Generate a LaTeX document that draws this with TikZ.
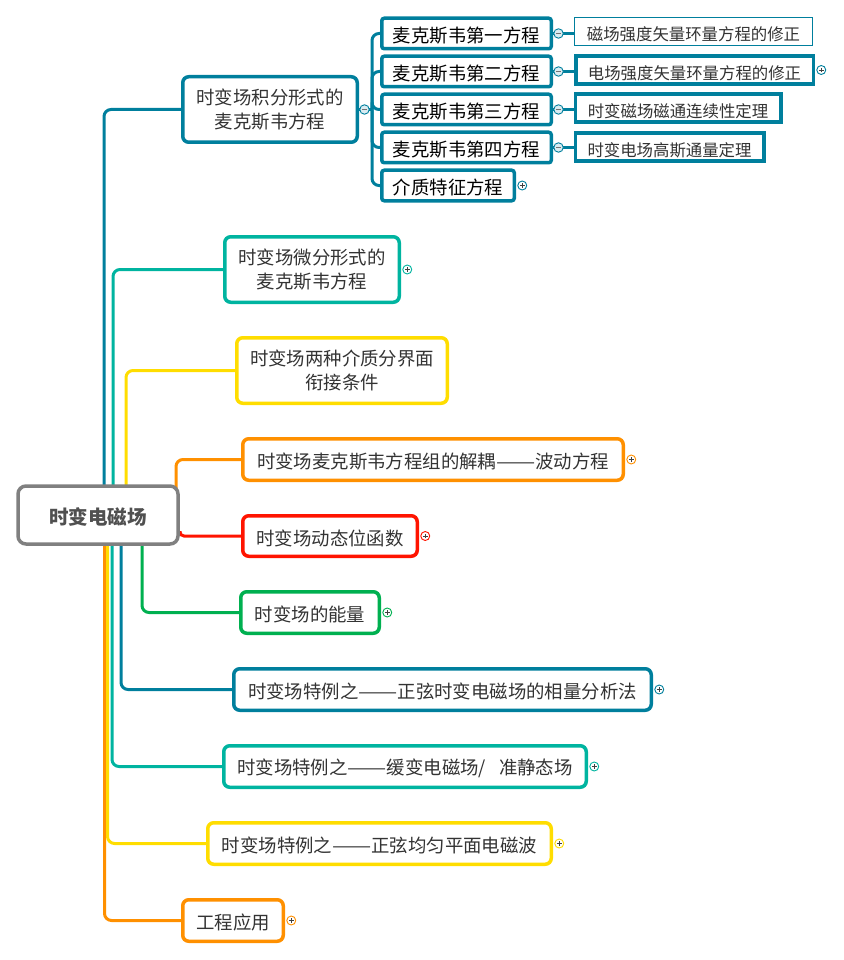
\documentclass[tikz,border=0pt]{standalone}
\usepackage{fontspec}
\setmainfont{Noto Sans CJK SC}
\usetikzlibrary{
		positioning,
		backgrounds
	}
\definecolor{blueline}{RGB}{0,127,157}
\definecolor{tealline}{RGB}{0,180,160}
\definecolor{yellowline}{RGB}{255,221,0}
\definecolor{orangeline}{RGB}{255,144,0}
\definecolor{redline}{RGB}{255,20,0}
\definecolor{greenline}{RGB}{0,176,80}
\definecolor{rootline}{RGB}{128,128,128}
\definecolor{inktext}{RGB}{51,51,51}
\definecolor{roottext}{RGB}{80,80,80}
\definecolor{minusfill}{RGB}{218,236,242}
\newcommand{\longdash}{\scalebox{1.27}[1]{——}}
\tikzset{
		cntext/.style={font=\fontsize{18.4}{24}\selectfont, text=inktext, align=center,
			execute at begin node={\rule{0pt}{20pt}}},
		topic/.style={cntext, draw=#1, fill=white, line width=3.5pt, rounded corners=6pt, inner sep=0pt, outer sep=0pt},
		eqnbox/.style={topic=blueline, text=black, rounded corners=2.5pt, minimum height=30.5pt},
		notebox/.style={cntext, draw=blueline, fill=white, line width=3.5pt, inner sep=0pt, outer sep=0pt,
			font=\fontsize{16.4}{24}\selectfont, minimum height=28pt,
			execute at begin node={\rule{0pt}{17.5pt}}},
		link/.style={draw=#1, line width=3pt, rounded corners=7pt},
		plusicon/.style={circle, draw=#1, fill=white, line width=.9pt, minimum size=9pt, inner sep=0pt, outer sep=0pt,
			path picture={
				\draw[black!75, line width=.8pt] ([xshift=-2.3pt]path picture bounding box.center) -- ([xshift=2.3pt]path picture bounding box.center);
				\draw[black!75, line width=.8pt] ([yshift=-2.3pt]path picture bounding box.center) -- ([yshift=2.3pt]path picture bounding box.center);
			}},
		minusicon/.style={circle, draw=#1, fill=minusfill, line width=.9pt, minimum size=9.5pt, inner sep=0pt, outer sep=0pt,
			path picture={
				\draw[black!55, line width=.8pt] ([xshift=-2.3pt]path picture bounding box.center) -- ([xshift=2.3pt]path picture bounding box.center);
			}}
	}
\begin{document}
\begin{tikzpicture}[x=1pt, y=-1pt]
	\useasboundingbox (0,0) rectangle (843,960);
	\node[topic=rootline, rounded corners=8pt, minimum width=160pt, minimum height=58pt, text=roottext,
		font=\fontsize{19.5}{24}\selectfont\bfseries] (root) at (98,515) {时变电磁场};

	\node[topic=blueline, minimum width=174.5pt, minimum height=65.5pt] (n1) at (270,109.5) {时变场积分形式的\\麦克斯韦方程};
	\node[topic=tealline, minimum width=174.5pt, minimum height=65.5pt] (n2) at (312,269.5) {时变场微分形式的\\麦克斯韦方程};
	\node[topic=yellowline, minimum width=210.5pt, minimum height=65.5pt] (n3) at (342,370.5) {时变场两种介质分界面\\衔接条件};
	\node[topic=orangeline, minimum width=380.5pt, minimum height=41.5pt] (n4) at (433,459.5) {时变场麦克斯韦方程组的解耦\longdash 波动方程};
	\node[topic=redline, minimum width=174.5pt, minimum height=40.5pt] (n5) at (330,536) {时变场动态位函数};
	\node[topic=greenline, minimum width=138.5pt, minimum height=41.5pt] (n6) at (310,612.5) {时变场的能量};
	\node[topic=blueline, minimum width=417.5pt, minimum height=41.5pt] (n7) at (442.5,689.5) {时变场特例之\longdash 正弦时变电磁场的相量分析法};
	\node[topic=tealline, minimum width=362.5pt, minimum height=41.5pt] (n8) at (405,766.5) {时变场特例之\longdash 缓变电磁场/\hspace{13pt}准静态场};
	\node[topic=yellowline, minimum width=343.5pt, minimum height=41.5pt] (n9) at (379.5,843.5) {时变场特例之\longdash 正弦均匀平面电磁波};
	\node[topic=orangeline, minimum width=100.5pt, minimum height=41.5pt] (n10) at (233,920.5) {工程应用};

	\node[eqnbox, minimum width=169.5pt] (k1) at (466.5,33.5) {麦克斯韦第一方程};
	\node[eqnbox, minimum width=169.5pt] (k2) at (466.5,71.5) {麦克斯韦第二方程};
	\node[eqnbox, minimum width=169.5pt] (k3) at (466.5,109.5) {麦克斯韦第三方程};
	\node[eqnbox, minimum width=169.5pt] (k4) at (466.5,147.5) {麦克斯韦第四方程};
	\node[eqnbox, minimum width=132.5pt] (k5) at (448,185.5) {介质特征方程};

	\node[notebox, line width=1.2pt, minimum width=238pt, minimum height=28.5pt] (q1) at (693.5,31.5) {磁场强度矢量环量方程的修正};
	\node[notebox, minimum width=237.5pt] (q2) at (694.5,70) {电场强度矢量环量方程的修正};
	\node[notebox, minimum width=205.5pt] (q3) at (678,108) {时变磁场磁通连续性定理};
	\node[notebox, minimum width=188.5pt] (q4) at (669.5,147) {时变电场高斯通量定理};

	\node[minusicon=blueline, right=2.5pt of n1] (m1) {};
	\foreach \i in {1,2,3,4}
		\node[minusicon=blueline, right=2.5pt of k\i] (mk\i) {};

	\foreach \name/\col in {k5/blueline, q2/blueline, n2/tealline, n4/orangeline, n5/redline, n6/greenline, n7/blueline, n8/tealline, n9/yellowline, n10/orangeline}
		\node[plusicon=\col, right=3.5pt of \name] (p\name) {};

	\coordinate (kbus) at (372,109.5);

	\begin{scope}[on background layer]
		\foreach \shift/\name/\col in {6/n1/blueline, 15/n2/tealline, 28/n3/yellowline, 78/n4/orangeline, 44/n6/greenline, 23/n7/blueline, 14/n8/tealline, 6.5/n10/orangeline, 9.5/n9/yellowline}
			\draw[link=\col] ([xshift=\shift pt]root.center) |- (\name.west);
		\draw[link=redline, rounded corners=4pt] ([xshift=2pt,yshift=-16pt]root.east) |- (n5.west);

		\draw[link=blueline] (n1.east) -- (kbus);
		\foreach \i in {1,2,3,4,5}
			\draw[link=blueline] (kbus) |- (k\i.west);
		\foreach \i in {1,2,3,4}
			\draw[link=blueline] (k\i.east) -- (q\i.west |- k\i.east);
	\end{scope}
\end{tikzpicture}
\end{document}
